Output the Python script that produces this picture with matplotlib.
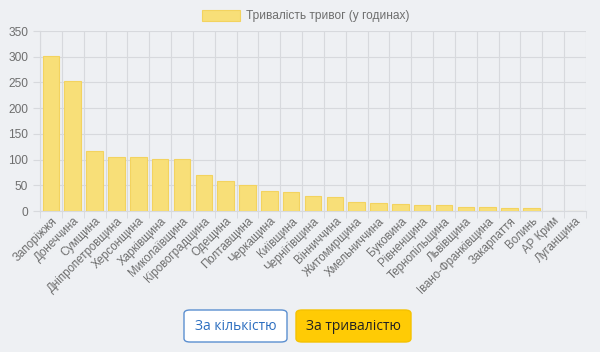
import matplotlib.pyplot as plt
from matplotlib.patches import FancyBboxPatch, Rectangle

regions = ['Запоріжжя', 'Донеччина', 'Сумщина', 'Дніпропетровщина', 'Херсонщина',
           'Харківщина', 'Миколаївщина', 'Кіровоградщина', 'Одещина', 'Полтавщина',
           'Черкащина', 'Київщина', 'Чернігівщина', 'Вінниччина', 'Житомирщина',
           'Хмельниччина', 'Буковина', 'Рівненщина', 'Тернопільщина', 'Львівщина',
           'Івано-Франківщина', 'Закарпаття', 'Волинь', 'АР Крим', 'Луганщина']
hours = [301, 252, 117, 105, 105, 101, 101, 70, 59, 51,
         39, 37, 29, 28, 17, 16, 13, 12, 11, 8,
         8, 6, 6, 0, 0]
y_ticks = [0, 50, 100, 150, 200, 250, 300, 350]
legend_label = 'Тривалість тривог (у годинах)'

bg = '#eef0f3'
bar_fill = '#f8df78'
bar_edge = '#f3d35f'
grid_col = '#d7d9dd'
text_col = '#6e6e6e'

plt.rcParams['font.family'] = ['Liberation Sans', 'DejaVu Sans']

fig = plt.figure(figsize=(6, 3.52), dpi=100, facecolor=bg)
ax = fig.add_axes([40 / 600, 1 - 211 / 352, 546 / 600, 180 / 352])
ax.set_facecolor(bg)

x = list(range(len(regions)))
ax.bar(x, hours, width=0.76, color=bar_fill, edgecolor=bar_edge, linewidth=0.8, zorder=3)

ax.set_xlim(-0.5, len(regions) - 0.5)
ax.set_ylim(0, 350)
ax.set_yticks(y_ticks)
ax.set_xticks(x)
ax.set_xticklabels(regions, rotation=45, ha='right', rotation_mode='anchor',
                   fontsize=8.3, color=text_col)
ax.tick_params(axis='y', labelsize=8.6, labelcolor=text_col, color=grid_col, length=5)
ax.tick_params(axis='x', color=grid_col, length=5, pad=3)

# chart.js style grid: vertical lines between categories
ax.set_xticks([i - 0.5 for i in range(len(regions) + 1)], minor=True)
ax.grid(axis='x', which='minor', color=grid_col, linewidth=0.8, zorder=0)
ax.grid(axis='y', which='major', color=grid_col, linewidth=0.8, zorder=0)
ax.tick_params(axis='x', which='minor', length=5, color=grid_col)
ax.tick_params(axis='x', which='major', length=0)
for side in ['top', 'right']:
    ax.spines[side].set_visible(False)
ax.spines['left'].set_color(grid_col)
ax.spines['bottom'].set_color(grid_col)

# legend at the top
fig.patches.append(Rectangle((202 / 600, 1 - 21 / 352), 38 / 600, 11 / 352,
                             transform=fig.transFigure, facecolor=bar_fill,
                             edgecolor=bar_edge, linewidth=0.8))
fig.text(246 / 600, 1 - 16 / 352, legend_label, fontsize=8.6, color=text_col,
         va='center', ha='left')

# buttons below the chart
btn_font = ['Open Sans', 'DejaVu Sans']
fig.patches.append(FancyBboxPatch((184 / 600, 1 - 342 / 352), 103 / 600, 32 / 352,
                                  boxstyle='round,pad=0,rounding_size=0.01',
                                  transform=fig.transFigure, facecolor='white',
                                  edgecolor='#5b8fd0', linewidth=1.0))
fig.text(235.5 / 600, 1 - 326 / 352, 'За кількістю', fontsize=10, color='#2d6fc0',
         ha='center', va='center', family=btn_font)
fig.patches.append(FancyBboxPatch((296 / 600, 1 - 342 / 352), 115 / 600, 32 / 352,
                                  boxstyle='round,pad=0,rounding_size=0.01',
                                  transform=fig.transFigure, facecolor='#ffcb05',
                                  edgecolor='#f5c200', linewidth=1.0))
fig.text(353.5 / 600, 1 - 326 / 352, 'За тривалістю', fontsize=10, color='#222222',
         ha='center', va='center', family=btn_font)

fig.savefig('out.png', dpi=100, facecolor=bg)
